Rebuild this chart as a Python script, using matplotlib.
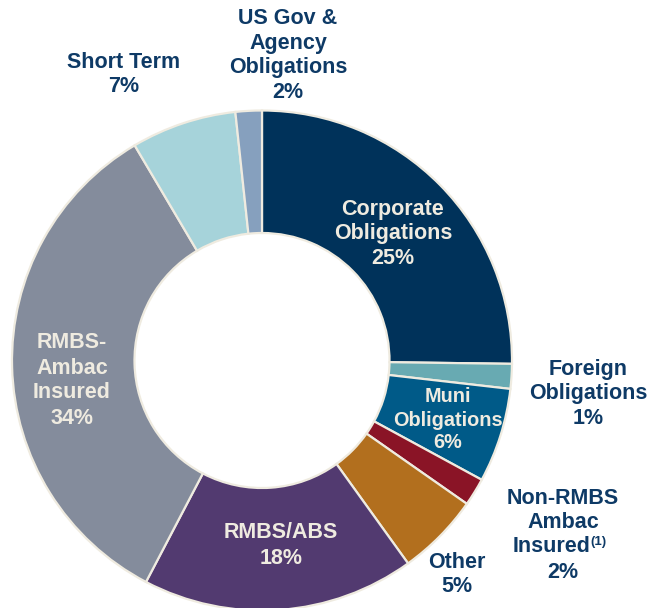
import matplotlib
matplotlib.use("Agg")
import matplotlib.pyplot as plt

categories = ["Corporate Obligations", "Foreign Obligations", "Muni Obligations",
              "Non-RMBS Ambac Insured", "Other", "RMBS/ABS", "RMBS-Ambac Insured",
              "Short Term", "US Gov & Agency Obligations"]
values = [25.2, 1.6, 6.1, 1.8, 5.35, 17.6, 33.8, 6.8, 1.7]
pct_labels = ["25%", "1%", "6%", "2%", "5%", "18%", "34%", "7%", "2%"]
colors = ["#00325A", "#68AAB2", "#005A88", "#8A1426", "#B26F1E",
          "#523A70", "#848C9C", "#A6D3DA", "#86A0BE"]

NAVY = "#0E3A66"
CREAM = "#EFEBE0"
FONT = "Liberation Sans"

W, H = 650, 608
fig = plt.figure(figsize=(6.5, 6.08), dpi=100)
ax = fig.add_axes([0, 0, 1, 1])

cx, cy, R = 262, H - 360.5, 250
ax.pie(values, colors=colors, startangle=90, counterclock=False,
       center=(cx, cy), radius=R, frame=True,
       wedgeprops=dict(width=R * 0.49, edgecolor=CREAM, linewidth=1.6))
ax.set_xlim(0, W)
ax.set_ylim(0, H)
ax.set_aspect("equal")
ax.axis("off")

def Y(y):
    return H - y

FS = 15.5
# label text lines, positions (pixel coords from top), colour, size
labels = [
    (["Corporate", "Obligations", pct_labels[0]], 393, [209, 234, 258], CREAM, FS),
    (["Foreign", "Obligations", pct_labels[1]], 588, [369, 394, 419], NAVY, FS),
    (["Muni", "Obligations", pct_labels[2]], 448, [397, 420, 443], CREAM, 14.3),
    (["Non-RMBS", "Ambac"], 563, [498, 523], NAVY, FS),
    ([pct_labels[3]], 563, [572], NAVY, FS),
    (["Other", pct_labels[4]], 457, [562, 587], NAVY, FS),
    (["RMBS/ABS", pct_labels[5]], 281, [533, 558], CREAM, FS),
    (["RMBS-", "Ambac", "Insured", pct_labels[6]], 72, [343, 368, 393, 418], CREAM, FS),
    (["Short Term", pct_labels[7]], 123.5, [63, 87], NAVY, FS),
    (["US Gov &", "Agency", "Obligations", pct_labels[8]], 288, [18, 44, 68, 93], NAVY, FS),
]
for lines, x, ys, col, fs in labels:
    for t, y in zip(lines, ys):
        ax.text(x, Y(y), t, ha="center", va="center", color=col,
                fontsize=fs, fontweight="bold", family=FONT)

ax.text(590, Y(547), "Insured", ha="right", va="center", color=NAVY,
        fontsize=FS, fontweight="bold", family=FONT)
ax.text(590, Y(542), "(1)", ha="left", va="center", color=NAVY,
        fontsize=9.5, fontweight="bold", family=FONT)

fig.savefig("out.png", dpi=100, facecolor="white")
